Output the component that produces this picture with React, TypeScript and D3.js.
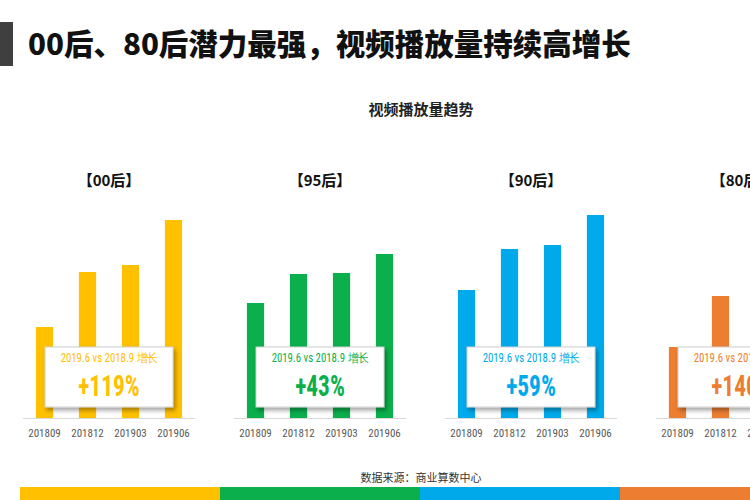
import React from 'react';
import * as d3 from 'd3';

const periods = ['201809', '201812', '201903', '201906'];
const groups = ['00后', '95后', '90后', '80后'];
const values00 = [91, 146, 153, 198];
const values95 = [115, 144, 145, 164];
const values90 = [128, 169, 173, 203];
const values80 = [71, 122, 140, 170];
const growthLabels = ['+119%', '+43%', '+59%', '+140%'];
const compareText = '2019.6 vs 2018.9 增长';
const groupColors = ['#FFC000', '#0BAF4B', '#00AAEA', '#ED7D31'];
const titleText = '00后、80后潜力最强，视频播放量持续高增长';
const subtitleText = '视频播放量趋势';
const sourceText = '数据来源：商业算数中心';

const W = 750;
const H = 500;
const baseY = 418;
const panelStart = 23;
const panelStep = 211;
const panelWidth = 172;

export default function App() {
  const series = [values00, values95, values90, values80];
  const y = d3.scaleLinear().domain([0, 200]).range([baseY, baseY - 200]);
  const cjk = '"Noto Sans CJK SC", "Noto Sans", sans-serif';
  const narrow = '"Liberation Sans Narrow", "Roboto Condensed", "DejaVu Sans Condensed", sans-serif';
  const strip = d3.scaleBand<number>().domain([0, 1, 2, 3]).range([20, 20 + 4 * 200]);

  return (
    <svg width={W} height={H} style={{ position: 'absolute', left: 0, top: 0, background: '#fff' }}>
      <defs>
        <filter id="sh" x="-20%" y="-20%" width="150%" height="160%">
          <feDropShadow dx="2" dy="3" stdDeviation="2" floodColor="#000" floodOpacity="0.35" />
        </filter>
      </defs>
      <rect x={0} y={0} width={W} height={H} fill="#fff" />
      <rect x={0} y={22} width={13} height={44} fill="#3f3f3f" />
      <text x={28} y={55} fontFamily={cjk} fontWeight={900} fontSize={29.5} fill="#111">{titleText}</text>
      <text x={421} y={115} textAnchor="middle" fontFamily={cjk} fontWeight={700} fontSize={15} fill="#222">{subtitleText}</text>

      {groups.map((g, gi) => {
        const x0 = panelStart + gi * panelStep;
        const x = d3.scaleBand<string>().domain(periods).range([x0, x0 + panelWidth]).paddingInner(0.6).paddingOuter(0.3);
        const cx = x0 + panelWidth / 2;
        const col = groupColors[gi];
        return (
          <g key={g}>
            <text x={cx} y={186} textAnchor="middle" fontFamily={cjk} fontWeight={700} fontSize={15} fill="#111">{`【${g}】`}</text>
            <line x1={x0} x2={x0 + panelWidth} y1={baseY + 0.5} y2={baseY + 0.5} stroke="#d9d9d9" strokeWidth={1} />
            {periods.map((p, i) => (
              <rect key={p} x={x(p)!} y={y(series[gi][i])} width={x.bandwidth()} height={baseY - y(series[gi][i])} fill={col} />
            ))}
            {periods.map((p) => (
              <text key={p} x={x(p)! + x.bandwidth() / 2} y={437} textAnchor="middle" fontFamily={narrow} fontSize={11} fill="#595959">{p}</text>
            ))}
            <rect x={cx - 64} y={347} width={128} height={60} fill="#fff" stroke="#d0d0d0" strokeWidth={1} filter="url(#sh)" />
            <g transform={`translate(${cx},0) scale(0.9,1)`}>
              <text x={0} y={362} textAnchor="middle" fontFamily={narrow} fontWeight={400} fontSize={12} fill={col}>{compareText}</text>
            </g>
            <g transform={`translate(${cx},0) scale(0.78,1)`}>
              <text x={0} y={396} textAnchor="middle" fontFamily={narrow} fontWeight={700} fontSize={30} fill={col}>{growthLabels[gi]}</text>
            </g>
          </g>
        );
      })}

      <text x={421} y={482} textAnchor="middle" fontFamily={cjk} fontSize={11} fill="#333">{sourceText}</text>
      {groupColors.map((c, i) => (
        <rect key={c} x={strip(i)!} y={487} width={strip.bandwidth() + 1} height={13} fill={c} />
      ))}
    </svg>
  );
}
